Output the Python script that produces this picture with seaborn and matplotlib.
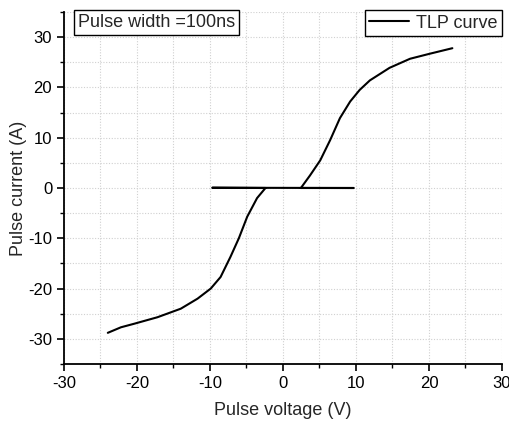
import matplotlib
matplotlib.use("Agg")
import matplotlib.pyplot as plt
import seaborn as sns
import pandas as pd
from matplotlib.ticker import MultipleLocator

# TLP sweep data (voltage V, current A)
neg_v = [-24.0, -22.2, -20.4, -17.2, -14.0, -11.7, -9.9, -8.55, -7.2, -6.05, -4.9, -3.55, -2.4]
neg_i = [-28.8, -27.7, -27.0, -25.7, -24.0, -22.0, -20.0, -17.7, -13.7, -10.0, -5.7, -2.0, 0.0]
flat_v = [-9.7, 9.7, 2.45]
flat_i = [0.05, 0.0, 0.0]
pos_v = [3.7, 5.1, 6.45, 7.8, 9.2, 10.5, 11.9, 14.6, 17.4, 20.1, 23.2]
pos_i = [2.5, 5.5, 9.5, 13.9, 17.2, 19.5, 21.4, 23.9, 25.7, 26.7, 27.8]

series_label = "TLP curve"
note_text = "Pulse width =100ns"
x_label = "Pulse voltage (V)"
y_label = "Pulse current (A)"

df = pd.DataFrame({
    "v": neg_v + flat_v + pos_v,
    "i": neg_i + flat_i + pos_i,
})

sns.set_style("white")
plt.rcParams["font.family"] = ["Liberation Sans", "DejaVu Sans"]
plt.rcParams["axes.unicode_minus"] = False

fig = plt.figure(figsize=(5.10, 4.23), dpi=100)
ax = fig.add_axes([64/510, 1 - 364/423, (502-64)/510, (364-12)/423])

sns.lineplot(data=df, x="v", y="i", sort=False, estimator=None, color="black",
             linewidth=1.5, ax=ax, label=series_label)

ax.set_xlim(-30, 30)
ax.set_ylim(-35, 35)
ax.xaxis.set_major_locator(MultipleLocator(10))
ax.xaxis.set_minor_locator(MultipleLocator(5))
ax.yaxis.set_major_locator(MultipleLocator(10))
ax.yaxis.set_minor_locator(MultipleLocator(5))
ax.grid(True, which="both", color="#d0d0d0", linestyle=(0, (1, 1.5)), linewidth=0.8)
ax.set_axisbelow(True)

for s in ["top", "right"]:
    ax.spines[s].set_visible(False)
for s in ["left", "bottom"]:
    ax.spines[s].set_color("black")
    ax.spines[s].set_linewidth(1.3)

ax.tick_params(which="major", direction="out", length=5, width=1.2, colors="black",
               labelsize=12, bottom=True, left=True)
ax.tick_params(which="minor", direction="out", length=3, width=1.0, colors="black",
               bottom=True, left=True)

ax.set_xlabel(x_label, fontsize=13, labelpad=8)
ax.set_ylabel(y_label, fontsize=13, labelpad=1)

leg = ax.legend(loc="upper right", bbox_to_anchor=(1.0, 1.005), fontsize=13,
                frameon=True, fancybox=False, edgecolor="black", framealpha=1,
                handlelength=2.2, borderpad=0.25, handletextpad=0.4, borderaxespad=0.0)
leg.get_frame().set_linewidth(1.0)

ax.text(0.032, 0.993, note_text, transform=ax.transAxes, fontsize=13,
        ha="left", va="top",
        bbox=dict(boxstyle="square,pad=0.22", facecolor="white", edgecolor="black", linewidth=1.0))

fig.savefig("out.png", dpi=100)
